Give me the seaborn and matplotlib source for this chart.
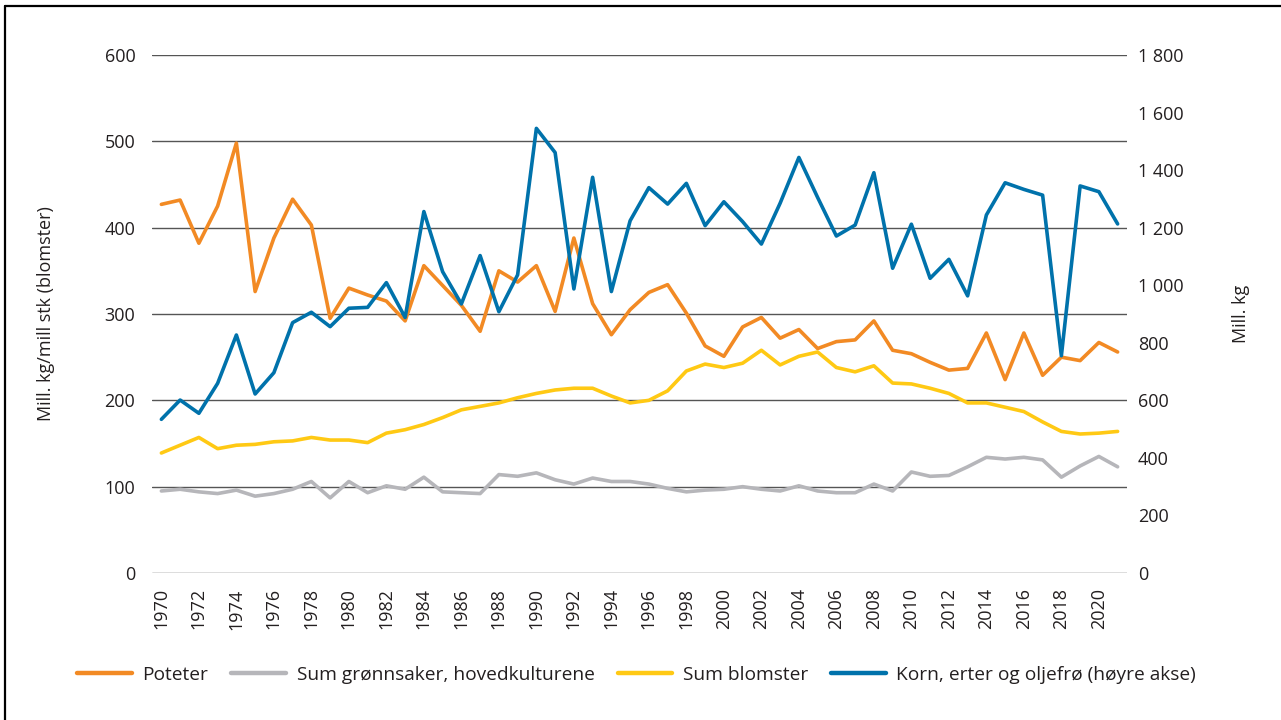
import matplotlib
matplotlib.use("Agg")
import matplotlib.pyplot as plt
from matplotlib.lines import Line2D
from matplotlib.ticker import FuncFormatter, MultipleLocator
import numpy as np
import seaborn as sns

years = list(range(1970, 2022))

poteter = [427, 432, 382, 425, 498, 326, 388, 433, 403, 295,
           330, 322, 315, 292, 356, 333, 310, 280, 350, 337,
           356, 303, 388, 312, 276, 305, 325, 334, 301, 263,
           251, 285, 296, 272, 282, 260, 268, 270, 292, 258,
           254, 244, 235, 237, 278, 224, 278, 229, 250, 246,
           267, 256]

gronnsaker = [95, 97, 94, 92, 96, 89, 92, 97, 106, 87,
              106, 93, 101, 97, 111, 94, 93, 92, 114, 112,
              116, 108, 103, 110, 106, 106, 103, 98, 94, 96,
              97, 100, 97, 95, 101, 95, 93, 93, 103, 95,
              117, 112, 113, 123, 134, 132, 134, 131, 111, 124,
              135, 123]

blomster = [139, 148, 157, 144, 148, 149, 152, 153, 157, 154,
            154, 151, 162, 166, 172, 180, 189, 193, 197, 203,
            208, 212, 214, 214, 205, 197, 200, 211, 234, 242,
            238, 243, 258, 241, 251, 256, 238, 233, 240, 220,
            219, 214, 208, 197, 197, 192, 187, 175, 164, 161,
            162, 164]

korn = [534, 601, 555, 659, 827, 622, 696, 870, 906, 856,
        920, 923, 1009, 888, 1256, 1047, 935, 1103, 908, 1036,
        1545, 1461, 987, 1375, 978, 1224, 1339, 1282, 1354, 1207,
        1290, 1221, 1143, 1285, 1444, 1305, 1171, 1209, 1391, 1059,
        1212, 1024, 1090, 963, 1244, 1356, 1333, 1313, 755, 1345,
        1325, 1213]

labels = ["Poteter", "Sum grønnsaker, hovedkulturene", "Sum blomster",
          "Korn, erter og oljefrø (høyre akse)"]
colors = ["#F28A24", "#B6B6BA", "#FFC914", "#0072AB"]

sns.set_style("white")
plt.rcParams["font.family"] = ["Open Sans", "DejaVu Sans"]
fs = 13
txt = "#231F20"

fig = plt.figure(figsize=(12.81, 7.2), dpi=100)
ax = fig.add_axes([152 / 1281, 1 - 573 / 720, 975 / 1281, 518 / 720])
ax2 = ax.twinx()

lw = 2.6
sns.lineplot(x=years, y=poteter, ax=ax, color=colors[0], lw=lw, label=labels[0], legend=False)
sns.lineplot(x=years, y=gronnsaker, ax=ax, color=colors[1], lw=lw, label=labels[1], legend=False)
sns.lineplot(x=years, y=blomster, ax=ax, color=colors[2], lw=lw, label=labels[2], legend=False)
sns.lineplot(x=years, y=korn, ax=ax2, color=colors[3], lw=lw, label=labels[3], legend=False)

ax.set_xlim(1969.5, 2021.5)
ax.set_ylim(0, 600)
ax2.set_ylim(0, 1800)
ax.yaxis.set_major_locator(MultipleLocator(100))
ax2.yaxis.set_major_locator(MultipleLocator(200))
ax2.yaxis.set_major_formatter(FuncFormatter(lambda v, p: f"{int(v):,}".replace(",", " ")))
ax.set_xticks(years[::2])
ax.set_xticklabels([str(y) for y in years[::2]], rotation=90)

ax.grid(axis="y", color="#555555", lw=1.0)
ax.grid(axis="x", visible=False)
ax2.grid(False)
for a in (ax, ax2):
    for s in a.spines.values():
        s.set_visible(False)
ax.tick_params(axis="y", length=0, pad=12, labelsize=fs, labelcolor=txt)
ax.tick_params(axis="x", length=0, pad=11, labelsize=fs, labelcolor=txt)
ax2.tick_params(axis="y", length=0, pad=8, labelsize=fs, labelcolor=txt)

ax.set_xlabel("")
ax.set_ylabel("Mill. kg/mill stk (blomster)", fontsize=fs, color=txt)
ax.yaxis.set_label_coords(-0.0995, 0.5)
ax2.set_ylabel("Mill. kg", fontsize=fs, color=txt)
ax2.yaxis.set_label_coords(1.1077, 0.5)

handles = [Line2D([], [], color=c, lw=3.2) for c in colors]
fig.legend(handles, labels, loc="center", bbox_to_anchor=(0.497, 1 - 675 / 720),
           ncol=4, frameon=False, fontsize=13.8, labelcolor=txt,
           handlelength=2.85, handletextpad=0.55, columnspacing=1.2)

# frame
fig.add_artist(Line2D([5 / 1281, 5 / 1281], [0, 1 - 6 / 720], transform=fig.transFigure, color="black", lw=1.6))
fig.add_artist(Line2D([5 / 1281, 1], [1 - 6 / 720, 1 - 6 / 720], transform=fig.transFigure, color="black", lw=1.6))

fig.savefig("out.png", dpi=100)
